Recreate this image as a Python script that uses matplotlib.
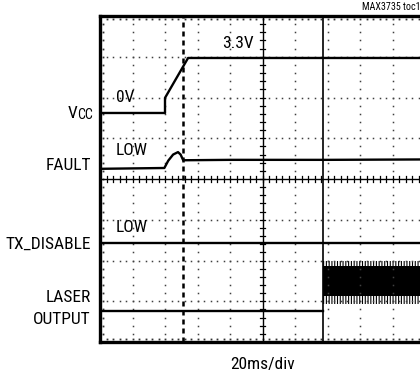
import numpy as np
import matplotlib
matplotlib.use("Agg")
import matplotlib.pyplot as plt
from matplotlib import font_manager

# condensed face if one is installed
names = {f.name for f in font_manager.fontManager.ttflist}
cond = [n for n in ['Roboto Condensed', 'Liberation Sans Narrow', 'DejaVu Sans Condensed',
                    'Open Sans Condensed', 'Noto Sans Condensed'] if n in names]
plt.rcParams['font.family'] = cond + ['DejaVu Sans']
plt.rcParams['font.stretch'] = 'condensed'

# Scope screen: 10 horizontal divisions, 8 vertical divisions
# Traces (x in divisions, y in divisions from the bottom)
vcc_x = [0, 2.0, 2.0, 2.71, 10]
vcc_y = [5.62, 5.62, 5.99, 6.97, 6.97]

fault_x = [0, 1.98, 2.1, 2.25, 2.4, 2.48, 2.56, 4.0, 7.0, 10]
fault_y = [4.25, 4.27, 4.45, 4.6, 4.66, 4.6, 4.46, 4.47, 4.47, 4.48]

tx_x = [0, 10]
tx_y = [2.43, 2.43]

laser_off_x = [0, 6.86]
laser_off_y = [0.76, 0.76]

# laser on: modulated band (outer extent and dense core)
laser_on_x = [6.86, 10]
laser_outer = (0.94, 1.98)
laser_core = (1.12, 1.86)

cursor_dashed = 2.55
cursor_solid = 6.86

W, H = 420, 373
fig = plt.figure(figsize=(W / 100, H / 100), dpi=100)
ax = fig.add_axes([100 / W, (H - 342) / H, 325 / W, 326 / H])
ax.set_xlim(0, 10)
ax.set_ylim(0, 8)
ax.set_xticks([])
ax.set_yticks([])
for s in ax.spines.values():
    s.set_linewidth(2.4)
    s.set_color('black')

# dotted graticule
minor = np.arange(0, 10.01, 0.2)
minor_y = np.arange(0, 8.01, 0.2)
for gy in range(1, 8):
    if gy == 4:
        continue
    ax.plot(minor, np.full_like(minor, gy), 's', ms=1.1, color='0.25', mew=0)
for gx in range(1, 10):
    if gx == 5:
        continue
    ax.plot(np.full_like(minor_y, gx), minor_y, 's', ms=1.1, color='0.25', mew=0)

# border ticks
ax.plot(minor, np.full_like(minor, 7.93), 's', ms=1.3, color='0.2', mew=0)
ax.plot(minor, np.full_like(minor, 0.07), 's', ms=1.3, color='0.2', mew=0)
ax.plot(np.full_like(minor_y, 0.09), minor_y, 's', ms=1.3, color='0.2', mew=0)

# center axes with tick marks
ax.axvline(5, color='black', lw=1.0)
ax.axhline(4, color='black', lw=1.0)
for t in minor_y:
    ax.plot([4.92, 5.08], [t, t], color='black', lw=0.9)
for t in minor:
    ax.plot([t, t], [3.93, 4.07], color='black', lw=0.9)

# cursors
ax.axvline(cursor_dashed, color='black', lw=1.8, ls=(0, (2, 1.6)))
ax.axvline(cursor_solid, color='black', lw=1.2)

# traces
ax.plot(vcc_x, vcc_y, color='black', lw=1.7, solid_joinstyle='round')
ax.plot(fault_x, fault_y, color='black', lw=1.7, solid_joinstyle='round')
ax.plot(tx_x, tx_y, color='black', lw=1.7)
ax.plot(laser_off_x, laser_off_y, color='black', lw=1.7)
plt.rcParams['hatch.linewidth'] = 0.8
ax.fill_between(laser_on_x, laser_outer[0], laser_outer[1], facecolor='none',
                edgecolor='black', hatch='||||||', lw=0)
ax.fill_between(laser_on_x, laser_core[0], laser_core[1], color='black', lw=0)


def px(x, y):
    return x / W, 1 - y / H


fs = 12.5
fig.text(*px(77, 113), 'V', fontsize=fs, ha='right', va='center')
fig.text(*px(77.5, 115), 'CC', fontsize=fs * 0.8, ha='left', va='center')
fig.text(*px(91, 165), 'FAULT', fontsize=fs, ha='right', va='center')
fig.text(*px(91, 244), 'TX_DISABLE', fontsize=fs, ha='right', va='center')
fig.text(*px(91, 298), 'LASER', fontsize=fs, ha='right', va='center')
fig.text(*px(91, 320), 'OUTPUT', fontsize=fs, ha='right', va='center')

fig.text(*px(116, 98), '0V', fontsize=fs, ha='left', va='center')
fig.text(*px(222, 44), '3.3V', fontsize=fs, ha='left', va='center')
fig.text(*px(116, 150), 'LOW', fontsize=fs, ha='left', va='center')
fig.text(*px(116, 228), 'LOW', fontsize=fs, ha='left', va='center')

fig.text(*px(263, 364), '20ms/div', fontsize=fs, ha='center', va='center')
fig.text(*px(421, 7), 'MAX3735 toc1', fontsize=7.2, ha='right', va='center')

fig.savefig('out.png', dpi=100)
